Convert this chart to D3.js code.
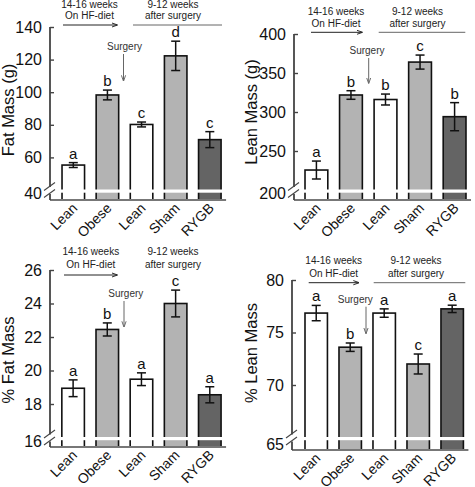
<!DOCTYPE html>
<html><head><meta charset="utf-8">
<script src="https://cdn.jsdelivr.net/npm/d3@7"></script>
<style>
body{margin:0;background:#fff;}
svg{display:block;font-family:"Liberation Sans",Arial,Helvetica,sans-serif;}
</style></head>
<body><svg id="chart" width="475" height="487"></svg>
<script>
// ---- data ----
const categories = ["Lean","Obese","Lean","Sham","RYGB"];
const groups = ["lean","obese","lean","sham","rygb"];

const fatMass = [55.3, 98.3, 80.2, 122.3, 70.9];
const fatMassErr = [1.5, 3, 1.5, 9, 4.9];
const fatMassLetters = ["a","b","c","d","c"];
const fatMassTicks = [40,60,80,100,120,140];

const leanMass = [225.6, 321.8, 316, 364, 294];
const leanMassErr = [11.5, 5.5, 7, 9, 18];
const leanMassLetters = ["a","b","b","c","b"];
const leanMassTicks = [200,250,300,350,400];

const pctFat = [18.94, 22.45, 19.48, 24.0, 18.55];
const pctFatErr = [0.5, 0.39, 0.38, 0.8, 0.48];
const pctFatLetters = ["a","b","a","c","a"];
const pctFatTicks = [16,18,20,22,24,26];

const pctLean = [76.85, 73.6, 76.85, 72.0, 77.25];
const pctLeanErr = [0.73, 0.4, 0.4, 0.95, 0.35];
const pctLeanLetters = ["a","b","a","c","a"];
const pctLeanTicks = [65,70,75,80];

const yLabels = ["Fat Mass (g)","Lean Mass (g)","% Fat Mass","% Lean Mass"];
const headerLeft = ["14-16 weeks","On HF-diet"];
const headerRight = ["9-12 weeks","after surgery"];
const surgeryText = "Surgery";

// ---- layout ----
const colors = {lean:"#ffffff", obese:"#b3b3b3", sham:"#b3b3b3", rygb:"#646464"};

const panels = [
  {vals:fatMass, err:fatMassErr, letters:fatMassLetters, ticks:fatMassTicks, label:yLabels[0],
   axisX:50, yTop:27, yBreak:190, base:200, xr:[55.2,227.9], lowShift:3,
   ylx:14, yly:110,
   h1x:89.5, h2x:173, l1y:7.5, l2y:19, ay:25, ax:[63,117], lx:[133,222],
   sx:124.5, sy:50, sax:123.5, say:[54,80.7]},
  {vals:leanMass, err:leanMassErr, letters:leanMassLetters, ticks:leanMassTicks, label:yLabels[1],
   axisX:294, yTop:34, yBreak:190, base:200, xr:[298.1,472.9], lowShift:3,
   ylx:257, yly:112,
   h1x:336, h2x:417.5, l1y:15, l2y:26.7, ay:32.3, ax:[311,362], lx:[378.7,465.3],
   sx:367, sy:54, sax:368.7, say:[58,83]},
  {vals:pctFat, err:pctFatErr, letters:pctFatLetters, ticks:pctFatTicks, label:yLabels[2],
   axisX:50, yTop:270, yBreak:437.5, base:447, xr:[55,227.9], lowShift:4,
   ylx:14, yly:360,
   h1x:90.8, h2x:173, l1y:255, l2y:267.7, ay:275, ax:[64,117], lx:null,
   sx:125.8, sy:296.7, sax:124, say:[301,326.7]},
  {vals:pctLean, err:pctLeanErr, letters:pctLeanLetters, ticks:pctLeanTicks, label:yLabels[3],
   axisX:292, yTop:280, yBreak:437.5, base:450, xr:[298.2,470.2], lowShift:7,
   ylx:257, yly:353,
   h1x:333.7, h2x:416, l1y:264, l2y:276.7, ay:282.7, ax:[308.7,358.7], lx:[373.7,465.3],
   sx:355.3, sy:303.3, sax:366, say:[306.7,333.3]}
];

const svg = d3.select("#chart");
const defs = svg.append("defs");
function marker(id, color){
  defs.append("marker").attr("id",id).attr("viewBox","0 0 10 10").attr("refX",9).attr("refY",5)
    .attr("markerWidth",6).attr("markerHeight",6).attr("orient","auto")
    .append("path").attr("d","M0,1.5 L10,5 L0,8.5").attr("fill","none").attr("stroke",color).attr("stroke-width",1.6);
}
marker("arrBlack","#222");
marker("arrGray","#666");

panels.forEach(p => {
  const g = svg.append("g");
  const ext = d3.extent(p.ticks);
  const y = d3.scaleLinear().domain(ext).range([p.yBreak, p.yTop]);
  const x = d3.scaleBand().domain(d3.range(categories.length)).range(p.xr).paddingInner(0.34).paddingOuter(0.2);
  const bw = x.bandwidth();

  // bars
  g.selectAll("rect.bar").data(p.vals).enter().append("rect")
    .attr("x",(d,i)=>x(i)).attr("y",d=>y(d)).attr("width",bw)
    .attr("height",d=>p.base - y(d))
    .attr("fill",(d,i)=>colors[groups[i]]).attr("stroke","#111").attr("stroke-width",1.6);

  // break stripe
  g.append("rect").attr("x",p.axisX+2).attr("y",p.yBreak-0.5).attr("width",p.xr[1]-p.axisX).attr("height",3.2).attr("fill","#fff");

  // x baseline
  g.append("line").attr("x1",p.axisX).attr("x2",x(4)+bw+5).attr("y1",p.base).attr("y2",p.base)
    .attr("stroke","#777").attr("stroke-width",2);

  // y axis
  const axis = d3.axisLeft(y).tickValues(p.ticks).tickSize(-4).tickPadding(8).tickFormat(d3.format("d"));
  const ag = g.append("g").attr("transform",`translate(${p.axisX},0)`).call(axis);
  ag.select(".domain").remove();
  ag.selectAll(".tick line").attr("stroke","#444").attr("stroke-width",1.4);
  ag.selectAll(".tick text").attr("font-size",16).attr("fill","#111")
    .attr("font-family","Liberation Sans, Arial, sans-serif");
  ag.selectAll(".tick").filter(d=>d===ext[0]).select("line").remove();
  ag.selectAll(".tick").filter(d=>d===ext[0]).select("text").attr("dy",`${0.32}em`).attr("y",p.lowShift);
  g.append("line").attr("x1",p.axisX).attr("x2",p.axisX).attr("y1",y(ext[1])).attr("y2",p.yBreak-3)
    .attr("stroke","#444").attr("stroke-width",1.8);
  g.append("line").attr("x1",p.axisX).attr("x2",p.axisX).attr("y1",p.yBreak+4).attr("y2",p.base)
    .attr("stroke","#444").attr("stroke-width",1.8);
  [-3.5,3.5].forEach(o=>{
    g.append("line").attr("x1",p.axisX-6).attr("x2",p.axisX+5).attr("y1",p.yBreak+o+4).attr("y2",p.yBreak+o-4)
      .attr("stroke","#444").attr("stroke-width",1.1);
  });

  // error bars
  p.vals.forEach((v,i)=>{
    const cx = x(i)+bw/2, t = y(v+p.err[i]), b = y(v-p.err[i]);
    g.append("line").attr("x1",cx).attr("x2",cx).attr("y1",t).attr("y2",b).attr("stroke","#111").attr("stroke-width",1.5);
    [t,b].forEach(yy=>g.append("line").attr("x1",cx-4.5).attr("x2",cx+4.5).attr("y1",yy).attr("y2",yy).attr("stroke","#111").attr("stroke-width",1.5));
    g.append("text").attr("x",cx).attr("y",t-4).attr("text-anchor","middle").attr("font-size",15).attr("fill","#111").text(p.letters[i]);
  });

  // x labels
  categories.forEach((c,i)=>{
    const cx = x(i)+bw/2+5, cy = p.base+9;
    g.append("text").attr("transform",`translate(${cx},${cy}) rotate(-45)`).attr("text-anchor","end")
      .attr("font-size",14).attr("fill","#111").text(c);
  });

  // y label
  g.append("text").attr("transform",`translate(${p.ylx},${p.yly}) rotate(-90)`).attr("text-anchor","middle")
    .attr("font-size",16.5).attr("fill","#111").text(p.label);

  // headers
  [[p.h1x,headerLeft],[p.h2x,headerRight]].forEach(([hx,lines])=>{
    lines.forEach((t,k)=>g.append("text").attr("x",hx).attr("y",k===0?p.l1y:p.l2y).attr("text-anchor","middle")
      .attr("font-size",10).attr("fill","#222").text(t));
  });
  g.append("line").attr("x1",p.ax[0]).attr("x2",p.ax[1]).attr("y1",p.ay).attr("y2",p.ay)
    .attr("stroke","#222").attr("stroke-width",1).attr("marker-end","url(#arrBlack)");
  if(p.lx) g.append("line").attr("x1",p.lx[0]).attr("x2",p.lx[1]).attr("y1",p.ay).attr("y2",p.ay)
    .attr("stroke","#666").attr("stroke-width",1);
  g.append("text").attr("x",p.sx).attr("y",p.sy).attr("text-anchor","middle").attr("font-size",10).attr("fill","#333").text(surgeryText);
  g.append("line").attr("x1",p.sax).attr("x2",p.sax).attr("y1",p.say[0]).attr("y2",p.say[1])
    .attr("stroke","#666").attr("stroke-width",1).attr("marker-end","url(#arrGray)");
});
</script></body></html>
